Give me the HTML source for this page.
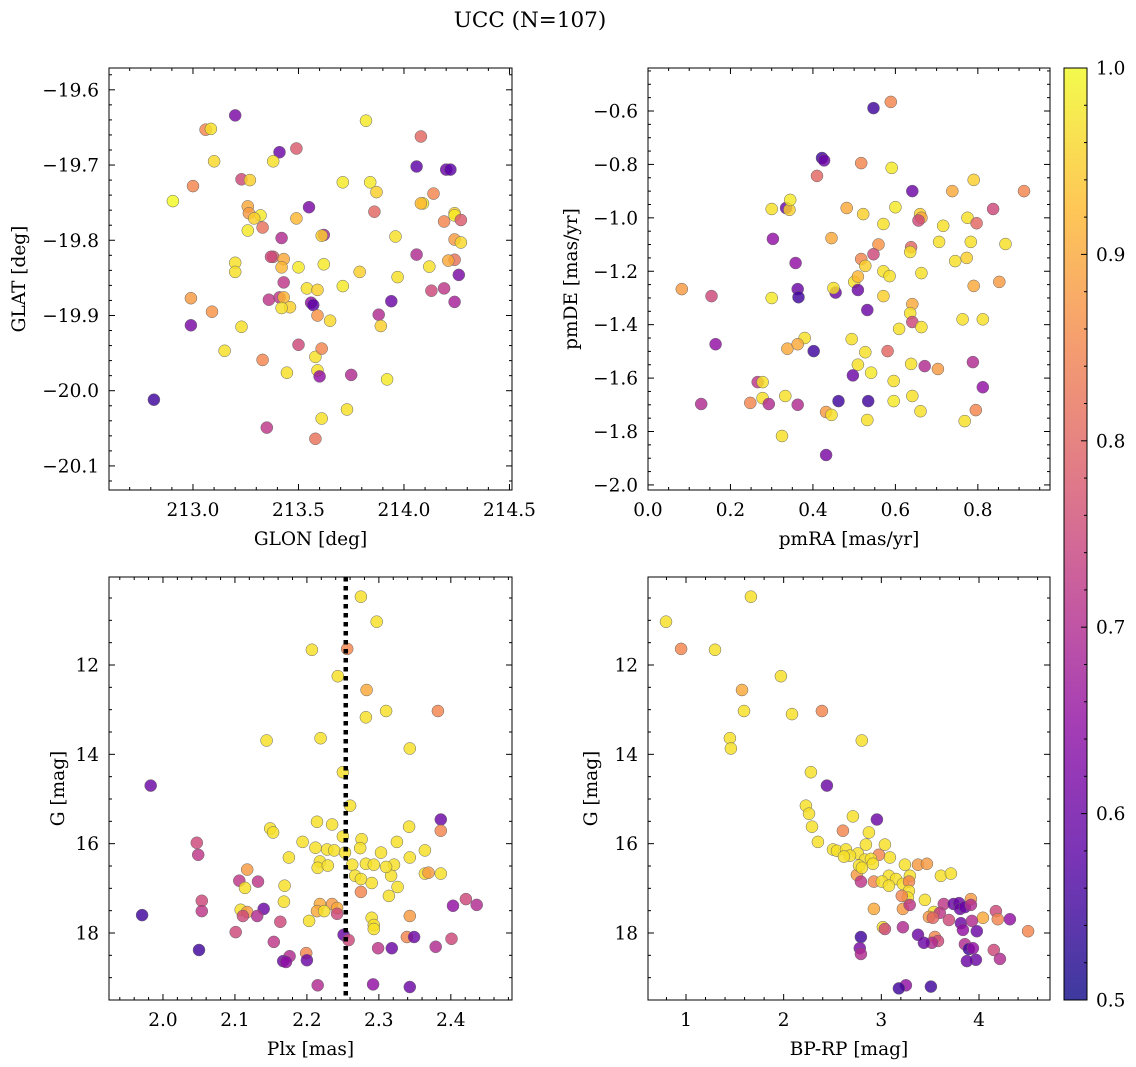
<!DOCTYPE html>
<html><head><meta charset="utf-8"><style>
body{margin:0;background:#fff;}
svg{display:block;font-family:"DejaVu Serif","Liberation Serif",serif;}
</style></head><body>
<svg id="fig" width="1136" height="1067" viewBox="0 0 1136 1067">
<text x="530" y="27" font-size="21.5" text-anchor="middle">UCC (N=107)</text>
</svg>
<script>
// Panel 1: GLON vs GLAT
const p1Lon=[213.20,213.06,213.085,213.41,213.49,213.82,214.08,214.06,214.20,214.22,213.10,213.38,213.23,213.27,212.905,213.0,213.71,213.84,213.87,214.09,214.08,214.14,214.19,214.24,214.24,214.27,213.55,213.49,213.26,213.265,213.32,213.29,213.33,213.26,213.62,213.61,213.86,213.96,213.42,213.38,213.37,213.43,213.42,213.43,213.41,213.50,213.20,213.20,214.06,214.12,214.24,214.21,214.13,214.19,214.24,214.24,214.27,213.62,213.79,213.71,213.97,214.26,213.54,213.59,213.36,213.43,213.56,213.57,213.46,213.42,213.59,213.65,213.94,213.88,213.89,212.99,212.99,213.09,213.23,213.15,213.50,213.58,213.61,213.445,213.33,213.59,213.60,213.75,213.92,213.73,213.61,213.58,213.35,212.815];
const p1Lat=[-19.634,-19.653,-19.652,-19.683,-19.678,-19.641,-19.662,-19.702,-19.706,-19.706,-19.695,-19.695,-19.719,-19.72,-19.748,-19.728,-19.723,-19.723,-19.736,-19.751,-19.751,-19.738,-19.775,-19.764,-19.767,-19.773,-19.756,-19.771,-19.755,-19.764,-19.767,-19.771,-19.783,-19.787,-19.793,-19.794,-19.762,-19.795,-19.797,-19.822,-19.822,-19.825,-19.836,-19.856,-19.876,-19.836,-19.830,-19.842,-19.819,-19.835,-19.826,-19.827,-19.867,-19.864,-19.882,-19.799,-19.803,-19.832,-19.842,-19.861,-19.849,-19.846,-19.864,-19.866,-19.879,-19.876,-19.883,-19.886,-19.889,-19.89,-19.9,-19.907,-19.881,-19.899,-19.914,-19.877,-19.913,-19.895,-19.915,-19.947,-19.939,-19.955,-19.944,-19.976,-19.959,-19.973,-19.981,-19.979,-19.985,-20.025,-20.037,-20.064,-20.049,-20.012];
const p1P=[.62,.85,.97,.6,.78,.98,.8,.58,.6,.58,.96,.97,.75,.95,1,.85,.98,.98,.95,.98,.92,.85,.85,.95,.98,.78,.62,.92,.9,.88,.98,.95,.82,.98,.68,.95,.8,.97,.7,.78,.75,.9,.92,.72,.72,.98,.97,.97,.7,.97,.82,.9,.75,.72,.68,.88,.96,.98,.95,.98,.97,.62,.97,.95,.72,.92,.65,.58,.95,.97,.87,.96,.6,.7,.95,.88,.62,.87,.97,.97,.75,.97,.85,.97,.85,.97,.65,.7,.98,.97,.97,.82,.72,.55];
// Panel 2: pmRA vs pmDE
const p2RA=[0.547,0.589,0.422,0.427,0.41,0.517,0.641,0.738,0.79,0.912,0.591,0.30,0.335,0.343,0.345,0.482,0.522,0.6,0.66,0.663,0.656,0.716,0.775,0.797,0.837,0.571,0.303,0.445,0.706,0.783,0.867,0.559,0.638,0.636,0.745,0.79,0.852,0.773,0.663,0.547,0.517,0.527,0.571,0.586,0.5,0.509,0.358,0.455,0.45,0.509,0.571,0.363,0.365,0.30,0.154,0.082,0.532,0.641,0.636,0.641,0.763,0.812,0.609,0.663,0.38,0.402,0.338,0.363,0.164,0.494,0.581,0.527,0.509,0.541,0.497,0.534,0.462,0.638,0.671,0.703,0.788,0.812,0.596,0.596,0.266,0.278,0.129,0.248,0.278,0.293,0.333,0.363,0.432,0.445,0.532,0.661,0.641,0.768,0.795,0.325,0.432];
const p2DE=[-0.589,-0.566,-0.776,-0.785,-0.843,-0.795,-0.9,-0.9,-0.858,-0.9,-0.813,-0.967,-0.963,-0.97,-0.933,-0.963,-0.986,-0.96,-0.986,-1.0,-1.01,-1.03,-1.0,-1.02,-0.967,-1.023,-1.079,-1.076,-1.09,-1.09,-1.098,-1.10,-1.11,-1.128,-1.162,-1.255,-1.24,-1.15,-1.207,-1.136,-1.154,-1.18,-1.2,-1.218,-1.24,-1.22,-1.169,-1.28,-1.263,-1.27,-1.293,-1.267,-1.297,-1.30,-1.293,-1.267,-1.345,-1.323,-1.357,-1.39,-1.38,-1.38,-1.416,-1.409,-1.45,-1.499,-1.49,-1.473,-1.473,-1.454,-1.499,-1.503,-1.55,-1.58,-1.59,-1.686,-1.686,-1.547,-1.555,-1.566,-1.54,-1.634,-1.611,-1.686,-1.615,-1.615,-1.697,-1.693,-1.675,-1.697,-1.667,-1.7,-1.727,-1.738,-1.757,-1.724,-1.667,-1.761,-1.72,-1.817,-1.888];
const p2P=[.55,.85,.55,.6,.8,.85,.6,.9,.95,.85,.98,.97,.6,.95,.98,.9,.95,.98,.95,.9,.75,.97,.97,.8,.75,.97,.65,.9,.97,.97,.97,.87,.8,.97,.97,.9,.88,.95,.97,.75,.85,.95,.97,.97,.97,.92,.65,.6,.97,.6,.95,.6,.55,.98,.75,.88,.6,.9,.97,.75,.97,.97,.97,.97,.97,.55,.9,.9,.65,.97,.8,.97,.97,.98,.6,.55,.55,.97,.7,.88,.7,.65,.97,.98,.72,.97,.7,.85,.97,.7,.97,.7,.88,.97,.97,.97,.97,.97,.85,.97,.62];
// Panel 3: Plx vs G
const p3Plx=[2.275,2.297,2.207,2.256,2.243,2.283,2.282,2.31,2.382,2.144,2.219,2.343,2.25,1.983,2.26,2.386,2.214,2.149,2.153,2.235,2.342,2.25,2.386,2.047,2.194,2.212,2.228,2.238,2.253,2.276,2.274,2.325,2.303,2.364,2.049,2.175,2.218,2.215,2.229,2.263,2.282,2.293,2.321,2.343,2.117,2.267,2.317,2.31,2.364,2.386,2.369,2.29,2.275,2.169,2.054,2.106,2.132,2.114,2.275,2.314,2.326,2.421,2.436,2.403,2.168,2.218,2.235,2.242,2.214,2.224,2.242,2.054,2.108,2.117,2.14,2.131,2.111,1.971,2.163,2.203,2.29,2.343,2.293,2.293,2.101,2.251,2.258,2.339,2.349,2.401,2.154,2.379,2.299,2.318,2.199,2.176,2.167,2.171,2.2,2.05,2.215,2.292,2.343];
const p3G=[10.47,11.03,11.66,11.64,12.25,12.56,13.17,13.03,13.03,13.69,13.64,13.87,14.4,14.70,15.15,15.46,15.51,15.66,15.75,15.57,15.62,15.84,15.71,15.98,15.96,16.09,16.13,16.15,16.2,15.9,16.1,15.96,16.2,16.15,16.25,16.31,16.40,16.54,16.49,16.47,16.45,16.47,16.47,16.31,16.58,16.72,16.72,16.52,16.67,16.67,16.65,16.88,16.79,16.94,17.28,16.83,16.85,16.99,17.08,17.17,16.97,17.24,17.37,17.39,17.30,17.35,17.35,17.44,17.51,17.51,17.57,17.51,17.48,17.53,17.46,17.62,17.62,17.6,17.75,17.73,17.66,17.62,17.82,17.91,17.98,18.04,18.16,18.09,18.09,18.13,18.2,18.31,18.34,18.34,18.45,18.52,18.63,18.65,18.61,18.38,19.17,19.15,19.21];
const p3P=[.97,.97,.97,.85,.97,.9,.97,.97,.85,.97,.97,.97,.97,.6,.97,.6,.97,.97,.97,.97,.97,.97,.85,.75,.97,.97,.97,.97,.97,.97,.97,.97,.97,.97,.72,.97,.97,.97,.97,.97,.97,.97,.97,.97,.88,.97,.97,.97,.97,.97,.88,.97,.97,.97,.75,.72,.72,.97,.85,.97,.97,.75,.7,.65,.97,.9,.88,.9,.9,.97,.75,.72,.97,.88,.6,.7,.75,.55,.75,.97,.97,.88,.97,.97,.75,.6,.75,.85,.6,.75,.72,.7,.72,.6,.85,.7,.6,.65,.6,.55,.7,.65,.6];
// Panel 4: BP-RP vs G
const p4C=[0.795,0.95,1.297,1.665,1.573,1.594,1.972,2.085,2.392,1.45,1.46,2.8,2.279,2.443,2.228,2.259,2.955,2.709,2.29,2.351,2.607,2.873,2.842,2.76,3.088,3.037,2.975,2.505,2.546,2.638,2.679,2.617,2.832,2.893,2.914,3.241,3.375,3.467,3.61,3.712,2.75,2.771,2.801,3.078,3.15,3.293,2.924,3.006,3.078,3.221,3.283,2.791,3.282,3.272,3.21,3.446,2.924,3.221,3.29,3.64,3.74,3.795,3.805,3.856,3.917,3.917,4.173,4.316,4.503,3.538,3.487,3.599,3.692,3.528,4.04,4.193,3.815,3.927,3.835,3.978,3.549,3.58,3.518,3.375,3.221,3.016,3.037,3.436,3.856,3.897,3.938,3.968,3.876,4.152,4.214,2.791,2.78,2.791,3.252,3.18,3.508];
const p4G=[11.03,11.64,11.66,10.47,12.56,13.03,12.25,13.10,13.03,13.64,13.87,13.69,14.40,14.70,15.15,15.33,15.46,15.39,15.62,15.96,15.71,15.75,16.02,16.22,16.31,16.02,16.25,16.13,16.16,16.13,16.27,16.29,16.36,16.34,16.45,16.47,16.47,16.45,16.72,16.67,16.7,16.49,16.54,16.72,16.79,16.72,16.85,16.85,16.94,16.90,16.85,16.85,17.06,17.21,17.17,17.26,17.46,17.46,17.37,17.35,17.35,17.33,17.46,17.42,17.24,17.37,17.51,17.69,17.96,17.53,17.64,17.55,17.71,17.66,17.66,17.69,17.78,17.73,17.93,17.96,18.09,18.18,18.22,18.04,17.87,17.87,17.91,18.22,18.25,18.36,18.34,18.6,18.63,18.38,18.58,18.09,18.34,18.47,19.17,19.24,19.20];
const p4P=[.97,.85,.97,.97,.9,.97,.97,.97,.85,.97,.97,.97,.97,.6,.97,.97,.6,.97,.97,.97,.85,.97,.97,.97,.97,.97,.85,.97,.97,.97,.97,.97,.97,.97,.97,.97,.88,.88,.97,.97,.88,.97,.97,.97,.97,.97,.85,.97,.97,.97,.85,.72,.97,.97,.85,.97,.9,.88,.72,.72,.6,.6,.6,.6,.88,.7,.75,.65,.85,.97,.88,.72,.75,.8,.9,.85,.6,.7,.65,.6,.85,.75,.7,.6,.7,.97,.75,.6,.7,.55,.65,.6,.6,.75,.7,.55,.62,.7,.65,.55,.55];

const NS="http://www.w3.org/2000/svg";
const fig=document.getElementById('fig');
function mk(tag,attrs,parent){const e=document.createElementNS(NS,tag);for(const k in attrs)e.setAttribute(k,attrs[k]);(parent||fig).appendChild(e);return e;}
const stops=[[13,8,135],[84,2,163],[139,10,165],[185,50,137],[219,92,104],[244,136,73],[254,188,43],[240,249,33]];
function plasma(t){t=Math.max(0,Math.min(1,t));const f=t*(stops.length-1);const i=Math.min(Math.floor(f),stops.length-2);const r=f-i;const a=stops[i],b=stops[i+1];return `rgb(${Math.round(a[0]+(b[0]-a[0])*r)},${Math.round(a[1]+(b[1]-a[1])*r)},${Math.round(a[2]+(b[2]-a[2])*r)})`;}
function fmt(v,d){const s=Math.abs(v).toFixed(d);return (v<-1e-9?'−':'')+s;}
const FS=18.5;

function panel(o){
  const g=mk('g',{});
  
  
  const X=v=>o.L+(v-o.x0)/(o.x1-o.x0)*(o.R-o.L);
  const Y=o.invY?(v=>o.T+(v-o.y0)/(o.y1-o.y0)*(o.B-o.T)):(v=>o.B-(v-o.y0)/(o.y1-o.y0)*(o.B-o.T));
  for(let i=0;i<o.xs.length;i++){
    const c=mk('circle',{cx:X(o.xs[i]).toFixed(1),cy:Y(o.ys[i]).toFixed(1),r:6,fill:plasma((o.ps[i]-0.5)/0.5),'fill-opacity':0.82,stroke:'#666','stroke-width':0.5},g);
    
    
  }
  if(o.vline!==undefined){const l=mk('line',{x1:X(o.vline),x2:X(o.vline),y1:o.T,y2:o.B,stroke:'#000','stroke-width':4.5,'stroke-dasharray':'4.5,4.5'},g);}
  const fr=mk('rect',{x:o.L,y:o.T,width:o.R-o.L,height:o.B-o.T,fill:'none',stroke:'#000','stroke-width':1},g);
  
  const eps=1e-9;
  const ylo=Math.min(o.y0,o.y1),yhi=Math.max(o.y0,o.y1);
  for(let v=Math.ceil(o.x0/o.xmin-eps)*o.xmin;v<=o.x1+eps;v+=o.xmin){const px=X(v);const maj=Math.abs(v/o.xmaj-Math.round(v/o.xmaj))<1e-6;const len=maj?6:3;
    mk('line',{x1:px,x2:px,y1:o.B,y2:o.B-len,stroke:'#000','stroke-width':1},g);mk('line',{x1:px,x2:px,y1:o.T,y2:o.T+len,stroke:'#000','stroke-width':1},g);
    if(maj){const t=mk('text',{x:px,y:o.B+26,'font-size':FS,'text-anchor':'middle'},g);t.textContent=fmt(v,o.xd);}}
  for(let v=Math.ceil(ylo/o.ymin-eps)*o.ymin;v<=yhi+eps;v+=o.ymin){if(v<ylo||v>yhi)continue;const py=Y(v);const maj=Math.abs(v/o.ymaj-Math.round(v/o.ymaj))<1e-6;const len=maj?6:3;
    mk('line',{x1:o.L,x2:o.L+len,y1:py,y2:py,stroke:'#000','stroke-width':1},g);mk('line',{x1:o.R,x2:o.R-len,y1:py,y2:py,stroke:'#000','stroke-width':1},g);
    if(maj){const t=mk('text',{x:o.L-10,y:py+6.5,'font-size':FS,'text-anchor':'end'},g);t.textContent=fmt(v,o.yd);}}
  const xl=mk('text',{x:(o.L+o.R)/2,y:o.B+55,'font-size':FS,'text-anchor':'middle'},g);xl.textContent=o.xlab;
  const yl=mk('text',{x:0,y:0,'font-size':FS,'text-anchor':'middle',transform:`translate(${o.ylx},${(o.T+o.B)/2}) rotate(-90)`},g);yl.textContent=o.ylab;
}
panel({name:'glon-glat-panel',L:109,R:512,T:68,B:490,x0:212.602,x1:214.512,y0:-20.132,y1:-19.571,xmaj:0.5,xmin:0.1,ymaj:0.1,ymin:0.02,xd:1,yd:1,xs:p1Lon,ys:p1Lat,ps:p1P,xlab:'GLON [deg]',ylab:'GLAT [deg]',ylx:25});
panel({name:'pm-panel',L:648,R:1050,T:68,B:490,x0:0,x1:0.975,y0:-2.019,y1:-0.439,xmaj:0.2,xmin:0.05,ymaj:0.2,ymin:0.05,xd:1,yd:1,xs:p2RA,ys:p2DE,ps:p2P,xlab:'pmRA [mas/yr]',ylab:'pmDE [mas/yr]',ylx:577});
panel({name:'plx-g-panel',L:109,R:512,T:577,B:1000,x0:1.925,x1:2.485,y0:10.03,y1:19.5,invY:true,xmaj:0.1,xmin:0.02,ymaj:2,ymin:0.5,xd:1,yd:0,xs:p3Plx,ys:p3G,ps:p3P,xlab:'Plx [mas]',ylab:'G [mag]',ylx:64,vline:2.254});
panel({name:'cmd-panel',L:648,R:1050,T:577,B:1000,x0:0.611,x1:4.727,y0:10.03,y1:19.5,invY:true,xmaj:1,xmin:0.2,ymaj:2,ymin:0.5,xd:0,yd:0,xs:p4C,ys:p4G,ps:p4P,xlab:'BP-RP [mag]',ylab:'G [mag]',ylx:597});

const cbTicks=[0.5,0.6,0.7,0.8,0.9,1.0];
(function(){
  const L=1064,R=1087,T=68,B=1000;
  const defs=mk('defs',{});const lg=mk('linearGradient',{id:'cbg',x1:0,y1:1,x2:0,y2:0},defs);
  for(let i=0;i<=20;i++)mk('stop',{offset:i/20,'stop-color':plasma(i/20),'stop-opacity':0.8},lg);
  const g=mk('g',{});
  mk('rect',{x:L,y:T,width:R-L,height:B-T,fill:'url(#cbg)',stroke:'#000','stroke-width':1},g);
  const Y=v=>B-(v-0.5)/0.5*(B-T);
  for(let k=0;k<=25;k++){const v=0.5+k*0.02;const maj=k%5===0;mk('line',{x1:R,x2:R-(maj?6:3),y1:Y(v),y2:Y(v),stroke:'#000','stroke-width':1},g);}
  cbTicks.forEach(v=>{const t=mk('text',{x:R+9,y:Y(v)+6.5,'font-size':FS},g);t.textContent=v.toFixed(1);});
})();
</script>
</body></html>
